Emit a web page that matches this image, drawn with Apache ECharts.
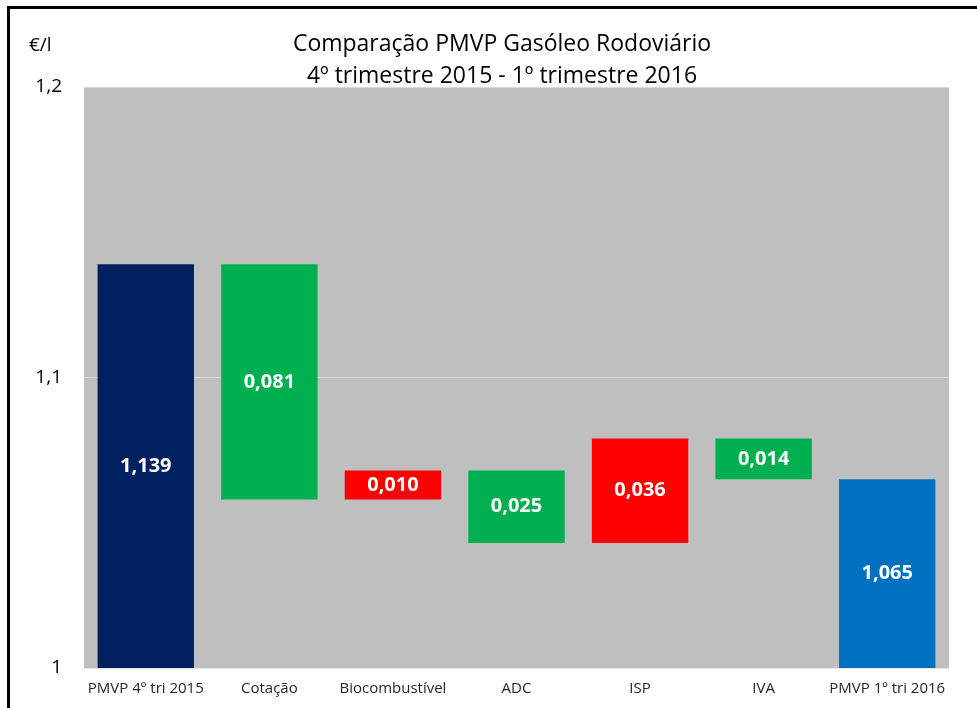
<!DOCTYPE html>
<html>
<head>
<meta charset="utf-8">
<script src="https://cdn.jsdelivr.net/npm/echarts@6/dist/echarts.min.js"></script>
<style>
  html, body { margin: 0; padding: 0; background: #fff; }
  #chart { width: 977px; height: 708px; }
</style>
</head>
<body>
<div id="chart"></div>
<script>
// categorias e variações (€/l)
const categorias = ['PMVP 4º tri 2015', 'Cotação', 'Biocombustível', 'ADC', 'ISP', 'IVA', 'PMVP 1º tri 2016'];
const variacoes = [1.139, -0.081, 0.010, -0.025, 0.036, -0.014, 1.065];
const totais = [true, false, false, false, false, false, true];
const yTicks = [1, 1.1, 1.2];

const COR_TOTAL_INI = '#002060';
const COR_TOTAL_FIM = '#0070C0';
const COR_DESCE = '#00B050';
const COR_SOBE = '#FF0000';

// waterfall: base invisível + barra visível
const base = [];
const altura = [];
const cores = [];
let acumulado = 0;
variacoes.forEach((v, i) => {
  if (totais[i]) {
    base.push(0);
    altura.push(v);
    acumulado = v;
    cores.push(i === 0 ? COR_TOTAL_INI : COR_TOTAL_FIM);
  } else {
    const novo = acumulado + v;
    base.push(Math.min(acumulado, novo));
    altura.push(Math.abs(v));
    cores.push(v < 0 ? COR_DESCE : COR_SOBE);
    acumulado = novo;
  }
});

const fonte = '"Open Sans", "Noto Sans", sans-serif';
const fmt = (v) => v.toFixed(3).replace('.', ',');

const chart = echarts.init(document.getElementById('chart'), null, { renderer: 'canvas' });

chart.setOption({
  animation: false,
  backgroundColor: '#fff',
  title: {
    text: 'Comparação PMVP Gasóleo Rodoviário\n4º trimestre 2015 - 1º trimestre 2016',
    left: 497,
    textAlign: 'center',
    top: 23,
    textStyle: { fontFamily: fonte, fontSize: 23, fontWeight: 'normal', color: '#000', lineHeight: 32 }
  },
  graphic: [
    { type: 'rect', shape: { x: 8.5, y: 7.5, width: 1100, height: 800 }, style: { fill: 'none', stroke: '#000', lineWidth: 3 } },
    { type: 'text', left: 29, top: 36, style: { text: '€/l', font: '19px ' + fonte, fill: '#000' } }
  ],
  grid: { left: 84, right: 28, top: 87, bottom: 40, show: true, backgroundColor: '#BFBFBF', borderWidth: 0 },
  xAxis: {
    type: 'category',
    data: categorias,
    axisTick: { show: false },
    axisLine: { show: true, lineStyle: { color: '#E8E8E8', width: 1 } },
    axisLabel: { interval: 0, fontFamily: fonte, fontSize: 15, color: '#262626', margin: 13 }
  },
  yAxis: {
    type: 'value',
    min: 1,
    max: 1.2,
    interval: 0.1,
    axisLine: { show: false },
    axisTick: { show: false },
    splitLine: { lineStyle: { color: '#D9D9D9', width: 1 } },
    axisLabel: {
      fontFamily: fonte, fontSize: 19, color: '#000', margin: 22,
      formatter: (v) => {
        const t = yTicks.find(x => Math.abs(x - v) < 1e-6);
        return t === undefined ? '' : String(t).replace('.', ',');
      }
    }
  },
  series: [
    {
      type: 'bar',
      stack: 'wf',
      data: base,
      itemStyle: { color: 'transparent' },
      emphasis: { disabled: true },
      barCategoryGap: '22%'
    },
    {
      type: 'bar',
      stack: 'wf',
      data: altura.map((h, i) => ({ value: h, itemStyle: { color: cores[i] } })),
      barCategoryGap: '22%',
      label: {
        show: true,
        position: 'inside',
        color: '#fff',
        fontFamily: fonte,
        fontSize: 20,
        fontWeight: 'bold',
        formatter: (p) => {
          const i = p.dataIndex;
          return fmt(totais[i] ? variacoes[i] : Math.abs(variacoes[i]));
        }
      }
    }
  ]
});
</script>
</body>
</html>
